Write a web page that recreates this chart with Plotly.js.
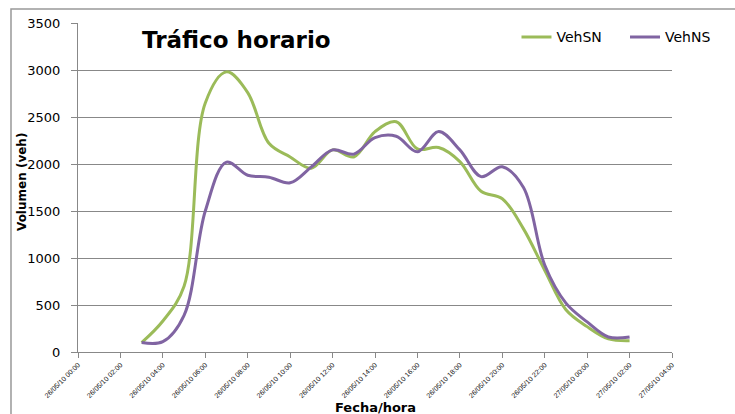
<!DOCTYPE html>
<html><head><meta charset="utf-8">
<script src="https://cdn.plot.ly/plotly-3.0.1.min.js"></script>
<style>html,body{margin:0;padding:0;background:#fff}#chart{width:735px;height:414px}</style>
</head><body><div id="chart"></div>
<script>
const times = ["2010-05-26 03:00","2010-05-26 04:00","2010-05-26 05:00","2010-05-26 06:00","2010-05-26 07:00","2010-05-26 08:00",
"2010-05-26 09:00","2010-05-26 10:00","2010-05-26 11:00","2010-05-26 12:00","2010-05-26 13:00","2010-05-26 14:00",
"2010-05-26 15:00","2010-05-26 16:00","2010-05-26 17:00","2010-05-26 18:00","2010-05-26 19:00","2010-05-26 20:00",
"2010-05-26 21:00","2010-05-26 22:00","2010-05-26 23:00","2010-05-27 00:00","2010-05-27 01:00","2010-05-27 02:00"];
const vehSN = [100,330,700,2650,2980,2760,2220,2075,1955,2150,2075,2345,2450,2160,2175,2025,1710,1630,1310,870,450,270,140,120];
const vehNS = [100,110,390,1500,2020,1880,1860,1800,1970,2150,2105,2280,2295,2130,2345,2150,1866,1970,1750,925,520,320,160,160];
const xRange = ["2010-05-26 00:00","2010-05-27 04:00"];
const titleText = "Tráfico horario";
const xTitle = "Fecha/hora";
const yTitle = "Volumen (veh)";

const traces = [
  {x: times, y: vehSN, name: "VehSN", type: "scatter", mode: "lines", legend: "legend",
   line: {color: "#9BBB59", width: 3, shape: "spline", smoothing: 1}},
  {x: times, y: vehNS, name: "VehNS", type: "scatter", mode: "lines", legend: "legend2",
   line: {color: "#8064A2", width: 3, shape: "spline", smoothing: 1}}
];
const legFont = {family: "DejaVu Sans", size: 14, color: "#000"};
const layout = {
  width: 735, height: 414,
  margin: {l: 78, r: 63, t: 23, b: 62},
  paper_bgcolor: "#fff", plot_bgcolor: "#fff",
  font: {family: "DejaVu Sans", color: "#000"},
  showlegend: true,
  legend: {orientation: "h", x: 0.7382, y: 1.005, xanchor: "left", yanchor: "top",
    font: legFont, bgcolor: "rgba(0,0,0,0)", itemwidth: 30},
  legend2: {orientation: "h", x: 0.9209, y: 1.005, xanchor: "left", yanchor: "top",
    font: legFont, bgcolor: "rgba(0,0,0,0)", itemwidth: 30},
  xaxis: {type: "date", range: xRange, dtick: 7200000, tick0: "2010-05-26 00:00",
    tickformat: "%d/%m/%y %H:%M", tickangle: -45,
    tickfont: {family: "Liberation Sans", size: 7, color: "#111"},
    showgrid: false, showline: true, linecolor: "#888", linewidth: 1,
    ticks: "outside", ticklen: 5, tickcolor: "#888", zeroline: false, fixedrange: true},
  yaxis: {range: [0, 3500], dtick: 500, tick0: 0,
    tickfont: {family: "DejaVu Sans", size: 13, color: "#000"},
    showgrid: true, gridcolor: "#888", gridwidth: 1,
    showline: true, linecolor: "#888", linewidth: 1,
    ticks: "outside", ticklen: 6, tickcolor: "#888", ticklabelstandoff: 8, zeroline: false},
  shapes: [
    {type: "rect", xref: "paper", yref: "paper", x0: -0.1128, x1: 1.3, y0: -0.4, y1: 1.0426,
     line: {color: "#999", width: 1.5}, fillcolor: "rgba(0,0,0,0)", layer: "below"}
  ],
  annotations: [
    {text: "<b>" + titleText + "</b>", xref: "paper", yref: "paper", x: (236 - 78) / 594, y: (352 - 40) / 329,
     xanchor: "center", yanchor: "middle", showarrow: false, font: {family: "DejaVu Sans", size: 23, color: "#000"}},
    {text: "<b>" + yTitle + "</b>", xref: "paper", yref: "paper", x: (22 - 78) / 594, y: (352 - 182) / 329,
     xanchor: "center", yanchor: "middle", textangle: -90, showarrow: false,
     font: {family: "DejaVu Sans", size: 12, color: "#000"}},
    {text: "<b>" + xTitle + "</b>", xref: "paper", yref: "paper", x: 0.5, y: (352 - 398) / 329,
     xanchor: "center", yanchor: "top", showarrow: false, font: {family: "DejaVu Sans", size: 13, color: "#000"}}
  ]
};
Plotly.newPlot("chart", traces, layout, {displayModeBar: false, staticPlot: true});
</script></body></html>
